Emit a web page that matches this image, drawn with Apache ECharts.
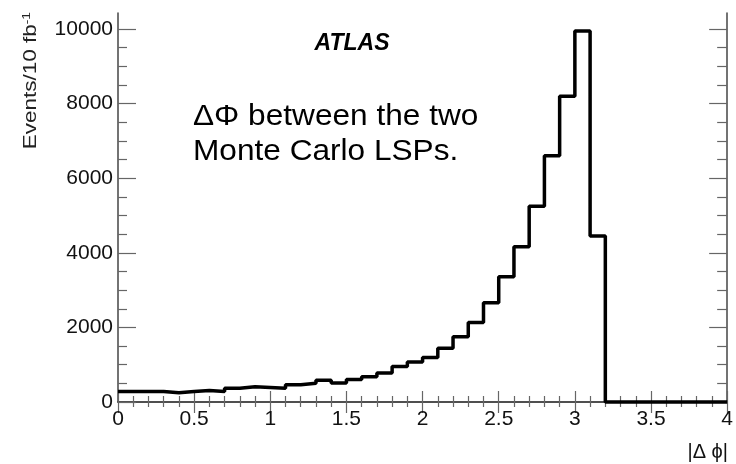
<!DOCTYPE html>
<html>
<head>
<meta charset="utf-8">
<script src="https://cdn.jsdelivr.net/npm/echarts@6/dist/echarts.min.js"></script>
<style>
  html, body { margin: 0; padding: 0; background: #fff; }
  #chart { width: 736px; height: 464px; }
</style>
</head>
<body>
<div id="chart"></div>
<script>
// bin lower edges (width 0.1) and entries per bin
const binLow = [0.0, 0.1, 0.2, 0.3, 0.4, 0.5, 0.6, 0.7, 0.8, 0.9,
                1.0, 1.1, 1.2, 1.3, 1.4, 1.5, 1.6, 1.7, 1.8, 1.9,
                2.0, 2.1, 2.2, 2.3, 2.4, 2.5, 2.6, 2.7, 2.8, 2.9,
                3.0, 3.1, 3.2, 3.3, 3.4, 3.5, 3.6, 3.7, 3.8, 3.9];
const counts = [280, 280, 280, 250, 280, 310, 280, 370, 410, 390,
                370, 460, 500, 580, 510, 600, 680, 780, 950, 1070,
                1190, 1440, 1750, 2130, 2660, 3360, 4160, 5250, 6600, 8200,
                9950, 4450, 0, 0, 0, 0, 0, 0, 0, 0];
const xHigh = 4.0;

const xTicks = [0, 0.5, 1, 1.5, 2, 2.5, 3, 3.5, 4];
const yMajor = [0, 2000, 4000, 6000, 8000, 10000];
const yMinor = [500, 1000, 1500, 2500, 3000, 3500, 4500, 5000, 5500,
                6500, 7000, 7500, 8500, 9000, 9500];
const yMax = 10430;

// step line: each point is the left edge of a bin, closing point at the last edge
const histPoints = binLow.map((x, i) => [x, counts[i]]);
histPoints.push([xHigh, counts[counts.length - 1]]);

const FONT = 'Liberation Sans';
const frameColor = '#444';
const tickColor = '#666';

const chart = echarts.init(document.getElementById('chart'), null, { renderer: 'canvas' });

const yAxisBase = (position, len, values, labels) => ({
  type: 'value',
  position: position,
  min: 0,
  max: yMax,
  axisLine: { show: labels !== null, lineStyle: { color: frameColor, width: 1.5 } },
  axisTick: { show: true, inside: true, length: len, customValues: values,
              lineStyle: { color: tickColor, width: 1.2 } },
  axisLabel: labels ? {
    show: true, customValues: labels, margin: 5,
    formatter: (v) => String(v),
    color: '#111', fontFamily: FONT, fontSize: 21
  } : { show: false },
  splitLine: { show: false }
});

chart.setOption({
  animation: false,
  backgroundColor: '#fff',
  grid: { left: 118, right: 8, top: 13, bottom: 62 },
  xAxis: [
    {
      type: 'value', position: 'bottom', min: 0, max: 4, interval: 0.5,
      axisLine: { lineStyle: { color: frameColor, width: 1.5 } },
      axisTick: { inside: true, length: 11, lineStyle: { color: tickColor, width: 1.2 } },
      minorTick: { show: true, splitNumber: 5, length: 6, lineStyle: { color: tickColor, width: 1.2 } },
      axisLabel: { customValues: xTicks, margin: 7, formatter: (v) => String(v),
                   color: '#111', fontFamily: FONT, fontSize: 21 },
      splitLine: { show: false }
    },
    {
      type: 'value', position: 'top', min: 0, max: 4, interval: 0.5,
      axisLine: { lineStyle: { color: frameColor, width: 1.5 } },
      axisTick: { inside: true, length: 11, lineStyle: { color: tickColor, width: 1.2 } },
      minorTick: { show: true, splitNumber: 5, length: 5, lineStyle: { color: tickColor, width: 1.2 } },
      axisLabel: { show: false },
      splitLine: { show: false }
    }
  ],
  yAxis: [
    yAxisBase('left', 18, yMajor, yMajor),
    yAxisBase('left', 9, yMinor, null),
    yAxisBase('right', 18, yMajor, []),
    yAxisBase('right', 10, yMinor, null)
  ],
  series: [{
    type: 'line',
    xAxisIndex: 0,
    yAxisIndex: 0,
    step: 'end',
    symbol: 'none',
    data: histPoints,
    lineStyle: { color: '#000', width: 3.5 },
    clip: false,
    z: 5
  }],
  graphic: [
    {
      type: 'text', x: 352, y: 44,
      style: { text: 'ATLAS', font: 'italic bold 23px "Liberation Sans"',
               fill: '#000', textAlign: 'center', textVerticalAlign: 'middle' }
    },
    {
      type: 'text', x: 193, y: 117, scaleX: 1.09,
      style: { text: 'ΔΦ between the two', font: '29px "Liberation Sans"',
               fill: '#000', textAlign: 'left', textVerticalAlign: 'middle' }
    },
    {
      type: 'text', x: 193, y: 152, scaleX: 1.09,
      style: { text: 'Monte Carlo LSPs.', font: '29px "Liberation Sans"',
               fill: '#000', textAlign: 'left', textVerticalAlign: 'middle' }
    },
    {
      type: 'text', x: 31, y: 12, rotation: Math.PI / 2, scaleX: 1.25,
      style: {
        text: '{a|Events/10 fb}{b|-1}',
        textAlign: 'right', textVerticalAlign: 'middle',
        rich: {
          a: { fontFamily: FONT, fontSize: 18, fill: '#222' },
          b: { fontFamily: FONT, fontSize: 11, fill: '#222', verticalAlign: 'top', padding: [0, 0, 8, 0] }
        }
      }
    },
    {
      type: 'text', x: 728, y: 452,
      style: { text: '|Δ ϕ|', font: '20px "Liberation Sans"',
               fill: '#111', textAlign: 'right', textVerticalAlign: 'middle' }
    }
  ]
});
</script>
</body>
</html>
